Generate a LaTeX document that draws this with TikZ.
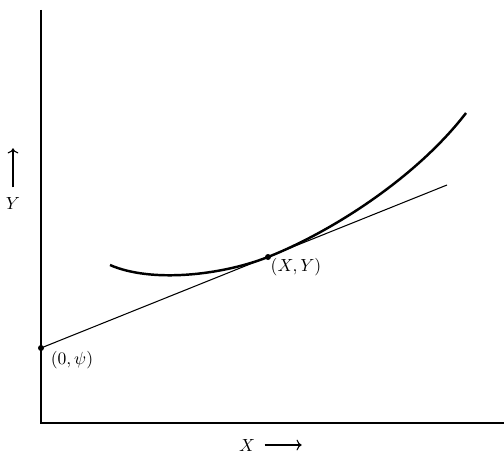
\documentclass[tikz,border=0pt]{standalone}
\usepackage{amsmath, amssymb}
\usepackage{tikz}
\usetikzlibrary{arrows.meta, calc}

\begin{document}
\begin{tikzpicture}[>=To]
  \useasboundingbox (-0.82,-0.6) rectangle (9.26,8.46);
  \coordinate (O) at (0,0);
  \coordinate (T) at (0,8.26);
  \coordinate (R) at (9.26,0);
  \coordinate (Q) at (0,1.5);
  \coordinate (P) at (4.54,3.32);
  \coordinate (E) at (8.12,4.76);

  % axes
  \draw[line width=0.9pt] (T) -- (O) -- (R);
  % tangent line through (X,Y)
  \draw[line width=0.6pt] (Q) -- (E);
  % the curve
  \draw[line width=1.4pt] (1.38,3.16) .. controls (2.2,2.8) and (3.6,2.95) .. (P)
    .. controls (5.8,3.82) and (7.5,4.9) .. (8.5,6.2);
  \fill (Q) circle[radius=0.06];
  \fill (P) circle[radius=0.06];
  \node (qlab) at (0.62,1.26) {$(0,\psi)$};
  \node (plab) at (5.1,3.12) {$(X,Y)$};
  % axis names
  \node (ylab) at (-0.56,4.4) {$Y$};
  \draw[->, line width=0.6pt] ([yshift=2pt]ylab.north) -- ++(0,0.78);
  \node (xlab) at (4.12,-0.44) {$X$};
  \draw[->, line width=0.6pt] ([xshift=2pt]xlab.east) -- ++(0.74,0);
\end{tikzpicture}
\end{document}
